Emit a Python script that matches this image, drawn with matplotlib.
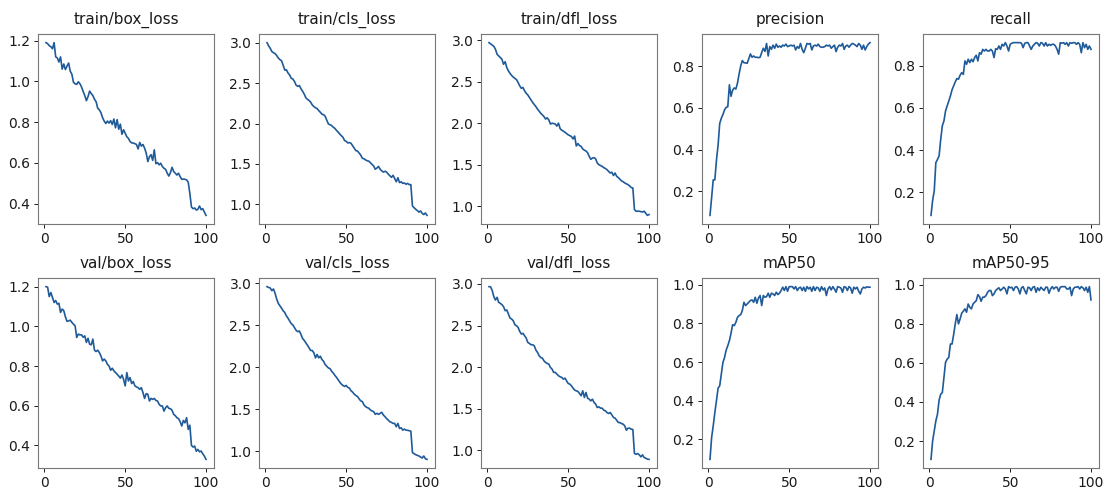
import numpy as np
import matplotlib
matplotlib.use('Agg')
import matplotlib.pyplot as plt

# epochs 1..100
epochs = np.arange(1, 101)

train_box_loss = [
    1.19, 1.185, 1.175, 1.17, 1.16, 1.19, 1.12, 1.115, 1.095, 1.12,
    1.06, 1.085, 1.058, 1.075, 1.09, 1.05, 1.035, 0.995, 0.988, 0.985,
    0.998, 0.988, 0.972, 0.95, 0.93, 0.905, 0.925, 0.952, 0.94, 0.93,
    0.912, 0.9, 0.868, 0.86, 0.846, 0.822, 0.805, 0.793, 0.805, 0.795,
    0.807, 0.788, 0.815, 0.772, 0.812, 0.765, 0.79, 0.74, 0.762, 0.745,
    0.728, 0.72, 0.705, 0.698, 0.697, 0.694, 0.69, 0.668, 0.7, 0.682,
    0.69, 0.672, 0.648, 0.606, 0.63, 0.64, 0.612, 0.664, 0.596, 0.601,
    0.59, 0.598, 0.582, 0.573, 0.568, 0.549, 0.535, 0.552, 0.578, 0.557,
    0.549, 0.54, 0.549, 0.532, 0.519, 0.52, 0.519, 0.516, 0.505, 0.45,
    0.383, 0.375, 0.378, 0.368, 0.372, 0.388, 0.37, 0.375, 0.358, 0.342]

train_cls_loss = [
    3.0, 2.96, 2.93, 2.89, 2.875, 2.865, 2.84, 2.81, 2.79, 2.775,
    2.72, 2.66, 2.665, 2.625, 2.6, 2.56, 2.55, 2.52, 2.475, 2.46,
    2.47, 2.43, 2.4, 2.365, 2.32, 2.3, 2.285, 2.265, 2.23, 2.21,
    2.195, 2.185, 2.16, 2.14, 2.115, 2.11, 2.09, 2.04, 1.995, 1.985,
    1.975, 1.955, 1.94, 1.915, 1.895, 1.87, 1.85, 1.83, 1.79, 1.78,
    1.76, 1.765, 1.755, 1.725, 1.695, 1.665, 1.66, 1.635, 1.61, 1.57,
    1.565, 1.55, 1.54, 1.535, 1.515, 1.495, 1.475, 1.435, 1.45, 1.47,
    1.435, 1.415, 1.4, 1.41, 1.4, 1.375, 1.355, 1.335, 1.36, 1.32,
    1.28, 1.33, 1.27, 1.28, 1.26, 1.265, 1.25, 1.26, 1.245, 1.245,
    0.98, 0.96, 0.94, 0.925, 0.905, 0.92, 0.89, 0.875, 0.895, 0.865]

train_dfl_loss = [
    2.97, 2.955, 2.94, 2.925, 2.89, 2.83, 2.81, 2.79, 2.77, 2.71,
    2.74, 2.67, 2.63, 2.6, 2.575, 2.555, 2.54, 2.525, 2.49, 2.45,
    2.42, 2.43, 2.39, 2.36, 2.34, 2.31, 2.28, 2.25, 2.225, 2.2,
    2.17, 2.145, 2.12, 2.1, 2.08, 2.05, 2.065, 2.04, 1.99, 2.0,
    1.995, 1.99, 1.965, 2.0, 1.935, 1.915, 1.905, 1.89, 1.875, 1.86,
    1.85, 1.84, 1.81, 1.845, 1.725, 1.755, 1.73, 1.72, 1.69, 1.675,
    1.665, 1.645, 1.6, 1.565, 1.58, 1.585, 1.57, 1.52, 1.5, 1.49,
    1.48, 1.465, 1.455, 1.44, 1.42, 1.4, 1.41, 1.37, 1.4, 1.36,
    1.345, 1.325, 1.305, 1.295, 1.28, 1.27, 1.26, 1.245, 1.225, 1.22,
    0.96, 0.94, 0.94, 0.94, 0.935, 0.93, 0.94, 0.915, 0.89, 0.9]

precision = [
    0.085, 0.17, 0.255, 0.255, 0.35, 0.42, 0.525, 0.55, 0.568, 0.59,
    0.602, 0.605, 0.71, 0.655, 0.685, 0.695, 0.69, 0.718, 0.762, 0.8,
    0.826, 0.816, 0.815, 0.813, 0.835, 0.858, 0.842, 0.848, 0.842, 0.842,
    0.84, 0.842, 0.865, 0.885, 0.87, 0.908, 0.848, 0.893, 0.88, 0.9,
    0.885, 0.905, 0.89, 0.896, 0.89, 0.9, 0.896, 0.905, 0.893, 0.896,
    0.9, 0.896, 0.9, 0.877, 0.893, 0.885, 0.908, 0.88, 0.864, 0.885,
    0.908, 0.905, 0.908, 0.877, 0.896, 0.9, 0.896, 0.905, 0.893, 0.89,
    0.89, 0.893, 0.9, 0.896, 0.9, 0.885, 0.893, 0.9, 0.869, 0.89,
    0.9, 0.896, 0.908, 0.88, 0.896, 0.9, 0.89, 0.9, 0.908, 0.905,
    0.9, 0.893, 0.908, 0.9, 0.88, 0.9, 0.877, 0.893, 0.905, 0.912]

recall = [
    0.089, 0.16, 0.205, 0.34, 0.355, 0.372, 0.45, 0.515, 0.538, 0.586,
    0.61, 0.633, 0.657, 0.686, 0.705, 0.724, 0.74, 0.737, 0.756, 0.768,
    0.76, 0.824, 0.808, 0.832, 0.816, 0.832, 0.82, 0.84, 0.851, 0.824,
    0.863, 0.856, 0.879, 0.871, 0.879, 0.871, 0.871, 0.879, 0.871, 0.84,
    0.882, 0.879, 0.895, 0.879, 0.903, 0.895, 0.911, 0.895, 0.871, 0.903,
    0.908, 0.911, 0.911, 0.911, 0.911, 0.911, 0.908, 0.887, 0.908, 0.911,
    0.911, 0.895, 0.879, 0.895, 0.903, 0.911, 0.908, 0.895, 0.911, 0.908,
    0.895, 0.911, 0.895, 0.903, 0.898, 0.903, 0.903, 0.895, 0.879, 0.856,
    0.911, 0.908, 0.911, 0.903, 0.911, 0.895, 0.911, 0.908, 0.911, 0.911,
    0.903, 0.911, 0.903, 0.863, 0.911, 0.887, 0.903, 0.879, 0.895, 0.879]

val_box_loss = [
    1.2, 1.197, 1.15, 1.17, 1.146, 1.12, 1.13, 1.112, 1.116, 1.07,
    1.087, 1.079, 1.048, 1.025, 1.028, 1.031, 1.02, 1.011, 1.003, 0.944,
    0.961, 0.957, 0.957, 0.945, 0.952, 0.919, 0.94, 0.91, 0.907, 0.936,
    0.88, 0.873, 0.88, 0.868, 0.851, 0.826, 0.835, 0.826, 0.809, 0.8,
    0.779, 0.789, 0.776, 0.767, 0.759, 0.75, 0.739, 0.755, 0.733, 0.7,
    0.767, 0.725, 0.742, 0.712, 0.722, 0.7, 0.695, 0.691, 0.683, 0.691,
    0.666, 0.637, 0.661, 0.658, 0.624, 0.637, 0.632, 0.637, 0.627, 0.624,
    0.607, 0.599, 0.599, 0.573, 0.59, 0.599, 0.587, 0.585, 0.577, 0.557,
    0.55, 0.54, 0.535, 0.52, 0.498, 0.526, 0.514, 0.54, 0.481, 0.502,
    0.4, 0.392, 0.397, 0.371, 0.38, 0.368, 0.372, 0.358, 0.346, 0.33]

val_cls_loss = [
    2.96, 2.95, 2.944, 2.912, 2.932, 2.88, 2.812, 2.76, 2.732, 2.704,
    2.672, 2.652, 2.612, 2.584, 2.552, 2.52, 2.504, 2.472, 2.44, 2.424,
    2.432, 2.392, 2.344, 2.32, 2.292, 2.264, 2.232, 2.2, 2.2, 2.172,
    2.112, 2.152, 2.112, 2.132, 2.092, 2.072, 2.032, 2.012, 1.992, 1.984,
    1.952, 1.932, 1.904, 1.88, 1.852, 1.824, 1.8, 1.784, 1.772, 1.784,
    1.76, 1.752, 1.72, 1.704, 1.68, 1.664, 1.652, 1.624, 1.6, 1.592,
    1.552, 1.532, 1.52, 1.512, 1.492, 1.48, 1.472, 1.44, 1.452, 1.44,
    1.452, 1.464, 1.432, 1.412, 1.39, 1.372, 1.352, 1.344, 1.332, 1.332,
    1.292, 1.332, 1.272, 1.28, 1.252, 1.264, 1.252, 1.25, 1.245, 1.24,
    0.984, 0.972, 0.96, 0.952, 0.944, 0.932, 0.92, 0.944, 0.912, 0.904]

val_dfl_loss = [
    2.968, 2.965, 2.92, 2.847, 2.807, 2.839, 2.779, 2.767, 2.751, 2.727,
    2.679, 2.687, 2.639, 2.59, 2.578, 2.558, 2.51, 2.498, 2.478, 2.43,
    2.398, 2.406, 2.378, 2.35, 2.297, 2.285, 2.269, 2.269, 2.257, 2.205,
    2.177, 2.137, 2.116, 2.108, 2.076, 2.056, 2.044, 2.036, 1.996, 1.976,
    1.936, 1.936, 1.916, 1.896, 1.884, 1.876, 1.855, 1.867, 1.835, 1.803,
    1.795, 1.775, 1.747, 1.723, 1.715, 1.707, 1.683, 1.655, 1.715, 1.635,
    1.695, 1.627, 1.614, 1.594, 1.614, 1.574, 1.554, 1.514, 1.522, 1.506,
    1.506, 1.482, 1.474, 1.454, 1.442, 1.454, 1.426, 1.394, 1.386, 1.361,
    1.333, 1.333, 1.321, 1.313, 1.293, 1.241, 1.265, 1.265, 1.253, 1.25,
    0.96, 0.952, 0.96, 0.944, 0.92, 0.944, 0.912, 0.904, 0.892, 0.89]

map50 = [
    0.096, 0.209, 0.27, 0.339, 0.4, 0.465, 0.477, 0.538, 0.598, 0.624,
    0.662, 0.685, 0.711, 0.749, 0.794, 0.789, 0.806, 0.832, 0.841, 0.846,
    0.867, 0.91, 0.893, 0.901, 0.91, 0.919, 0.922, 0.91, 0.936, 0.905,
    0.932, 0.945, 0.893, 0.945, 0.936, 0.939, 0.957, 0.936, 0.957, 0.953,
    0.945, 0.962, 0.95, 0.957, 0.971, 0.988, 0.971, 0.991, 0.967, 0.991,
    0.991, 0.991, 0.979, 0.991, 0.971, 0.984, 0.988, 0.971, 0.988, 0.967,
    0.991, 0.979, 0.988, 0.967, 0.991, 0.971, 0.988, 0.984, 0.967, 0.991,
    0.974, 0.984, 0.945, 0.979, 0.991, 0.974, 0.991, 0.979, 0.962, 0.991,
    0.988, 0.984, 0.962, 0.991, 0.988, 0.971, 0.991, 0.984, 0.957, 0.988,
    0.979, 0.988, 0.967, 0.953, 0.979, 0.988, 0.984, 0.99, 0.988, 0.988]

map50_95 = [
    0.106, 0.2, 0.251, 0.303, 0.337, 0.409, 0.44, 0.448, 0.525, 0.603,
    0.62, 0.628, 0.697, 0.697, 0.745, 0.8, 0.848, 0.8, 0.825, 0.855,
    0.865, 0.877, 0.86, 0.902, 0.885, 0.877, 0.902, 0.911, 0.919, 0.95,
    0.94, 0.916, 0.937, 0.937, 0.945, 0.962, 0.971, 0.971, 0.945, 0.954,
    0.971, 0.979, 0.985, 0.971, 0.979, 0.988, 0.979, 0.954, 0.991, 0.985,
    0.988, 0.971, 0.988, 0.991, 0.979, 0.954, 0.985, 0.991, 0.971, 0.954,
    0.988, 0.985, 0.971, 0.988, 0.991, 0.962, 0.985, 0.971, 0.988, 0.979,
    0.971, 0.988, 0.988, 0.957, 0.979, 0.991, 0.979, 0.988, 0.988, 0.967,
    0.988, 0.991, 0.991, 0.991, 0.979, 0.979, 0.988, 0.945, 0.979, 0.988,
    0.988, 0.991, 0.979, 0.991, 0.985, 0.971, 0.988, 0.962, 0.991, 0.923]

titles = ['train/box_loss', 'train/cls_loss', 'train/dfl_loss', 'precision', 'recall',
          'val/box_loss', 'val/cls_loss', 'val/dfl_loss', 'mAP50', 'mAP50-95']
series = [train_box_loss, train_cls_loss, train_dfl_loss, precision, recall,
          val_box_loss, val_cls_loss, val_dfl_loss, map50, map50_95]

W, H = 1107, 490
fig = plt.figure(figsize=(W / 100, H / 100), dpi=100)

# axes placement in pixels (left edges per column, top/bottom per row)
col_left = [38, 259, 481, 702, 923]
ax_w = 176
row_top = [34, 278]
ax_h = 190

for i, (title, y) in enumerate(zip(titles, series)):
    r, c = divmod(i, 5)
    ax = fig.add_axes([col_left[c] / W, 1 - (row_top[r] + ax_h) / H, ax_w / W, ax_h / H])
    ax.plot(epochs, y, color='#1f5a99', linewidth=1.2)
    ax.set_title(title, fontsize=11, color='#1a1a1a', pad=7)
    ax.set_xticks([0, 50, 100])
    ax.tick_params(labelsize=10, colors='#1a1a1a', length=3, width=0.7, pad=2.5)
    for s in ax.spines.values():
        s.set_color('#777777')
        s.set_linewidth(0.8)

fig.savefig('out.png', dpi=100)
